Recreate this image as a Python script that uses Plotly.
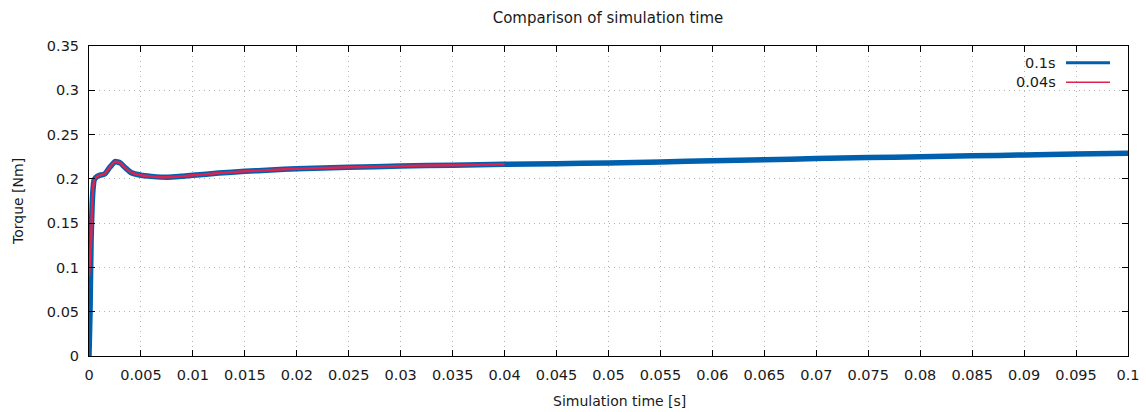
import plotly.graph_objects as go

# ---- data ----
t_long = [0, 0.0001, 0.0002, 0.0003, 0.0004, 0.0005, 0.0008, 0.001, 0.0015, 0.002,
          0.0025, 0.003, 0.0035, 0.004, 0.005, 0.006, 0.0075, 0.009, 0.01, 0.0125,
          0.015, 0.0175, 0.02, 0.025, 0.03, 0.035, 0.04, 0.045, 0.05, 0.055, 0.06,
          0.065, 0.07, 0.075, 0.08, 0.085, 0.09, 0.095, 0.1]
torque_long = [0, 0.05, 0.13, 0.17, 0.19, 0.199, 0.203, 0.204, 0.2055, 0.213,
               0.2195, 0.218, 0.2125, 0.2075, 0.204, 0.2028, 0.2018, 0.203, 0.204, 0.2065,
               0.2085, 0.210, 0.2115, 0.213, 0.2145, 0.2155, 0.2165, 0.217, 0.218, 0.219, 0.2205,
               0.2215, 0.223, 0.224, 0.225, 0.226, 0.227, 0.228, 0.229]

t_short = [0, 0.0002, 0.0003, 0.0004, 0.0005, 0.0008, 0.001, 0.0015, 0.002,
           0.0025, 0.003, 0.0035, 0.004, 0.005, 0.006, 0.0075, 0.009, 0.01, 0.0125,
           0.015, 0.0175, 0.02, 0.025, 0.03, 0.035, 0.04]
torque_short = [0.09, 0.13, 0.17, 0.19, 0.199, 0.203, 0.204, 0.2055, 0.213,
                0.2195, 0.218, 0.2125, 0.2075, 0.204, 0.2028, 0.2018, 0.203, 0.204, 0.2065,
                0.2085, 0.210, 0.2115, 0.213, 0.2145, 0.2155, 0.2165]

x_ticks = [0, 0.005, 0.01, 0.015, 0.02, 0.025, 0.03, 0.035, 0.04, 0.045, 0.05,
           0.055, 0.06, 0.065, 0.07, 0.075, 0.08, 0.085, 0.09, 0.095, 0.1]
x_tick_text = ["0", "0.005", "0.01", "0.015", "0.02", "0.025", "0.03", "0.035", "0.04",
               "0.045", "0.05", "0.055", "0.06", "0.065", "0.07", "0.075", "0.08",
               "0.085", "0.09", "0.095", "0.1"]
y_ticks = [0, 0.05, 0.1, 0.15, 0.2, 0.25, 0.3, 0.35]
y_tick_text = ["0", "0.05", "0.1", "0.15", "0.2", "0.25", "0.3", "0.35"]

series_names = ["0.1s", "0.04s"]
BLUE = "#0060ad"
RED = "#e0234e"
FONT = "DejaVu Sans"
TXT = "#1a1a1a"

fig = go.Figure()
fig.add_trace(go.Scatter(x=t_long, y=torque_long, mode="lines", name=series_names[0],
                         line=dict(color=BLUE, width=5.5, shape="spline", smoothing=0.5),
                         showlegend=False))
fig.add_trace(go.Scatter(x=t_short, y=torque_short, mode="lines", name=series_names[1],
                         line=dict(color=RED, width=2.5, shape="spline", smoothing=0.5),
                         showlegend=False))

axis_common = dict(showline=True, linecolor="black", linewidth=1, mirror="ticks",
                   ticks="inside", ticklen=6, tickcolor="black", showgrid=True,
                   gridcolor="#b4b4b4", griddash="1px,4px", gridwidth=1, zeroline=False,
                   automargin=False,
                   tickfont=dict(family=FONT, size=14.5, color=TXT))

fig.update_xaxes(range=[0, 0.1], tickvals=x_ticks, ticktext=x_tick_text,
                 ticklabelstandoff=6, **axis_common)
fig.update_yaxes(range=[0, 0.35], tickvals=y_ticks, ticktext=y_tick_text,
                 ticklabelstandoff=6, **axis_common)

# axis titles as annotations (gnuplot placement)
annotations = [
    dict(text="Simulation time [s]", x=(619 - 89) / 1039, y=(356 - 401) / 310,
         xref="paper", yref="paper", xanchor="center", yanchor="middle",
         showarrow=False, font=dict(family=FONT, size=14, color=TXT)),
    dict(text="Torque [Nm]", x=(18 - 89) / 1039, y=(356 - 202) / 310,
         xref="paper", yref="paper", xanchor="center", yanchor="middle", textangle=-90,
         showarrow=False, font=dict(family=FONT, size=14, color=TXT)),
]

# gnuplot-style legend: text then line sample
leg_y = [(356 - 62.7) / 310, (356 - 82.3) / 310]
leg_colors = [BLUE, RED]
leg_widths = [3, 1.5]
shapes = []
for name, yy, c, w in zip(series_names, leg_y, leg_colors, leg_widths):
    annotations.append(dict(text=name, x=(1058 - 89) / 1039, y=yy, xref="paper", yref="paper",
                            xanchor="right", yanchor="middle", showarrow=False,
                            font=dict(family=FONT, size=14.5, color=TXT)))
    shapes.append(dict(type="line", xref="paper", yref="paper",
                       x0=(1066 - 89) / 1039, x1=(1110 - 89) / 1039,
                       y0=yy, y1=yy, line=dict(color=c, width=w)))

fig.update_layout(
    width=1146, height=412,
    margin=dict(l=89, r=18, t=46, b=56, autoexpand=False),
    paper_bgcolor="white", plot_bgcolor="white",
    title=dict(text="Comparison of simulation time", x=608 / 1146, xanchor="center",
               y=1 - 18 / 412, yanchor="middle", font=dict(family=FONT, size=15, color=TXT)),
    annotations=annotations, shapes=shapes,
)

fig.write_html("out.html")
